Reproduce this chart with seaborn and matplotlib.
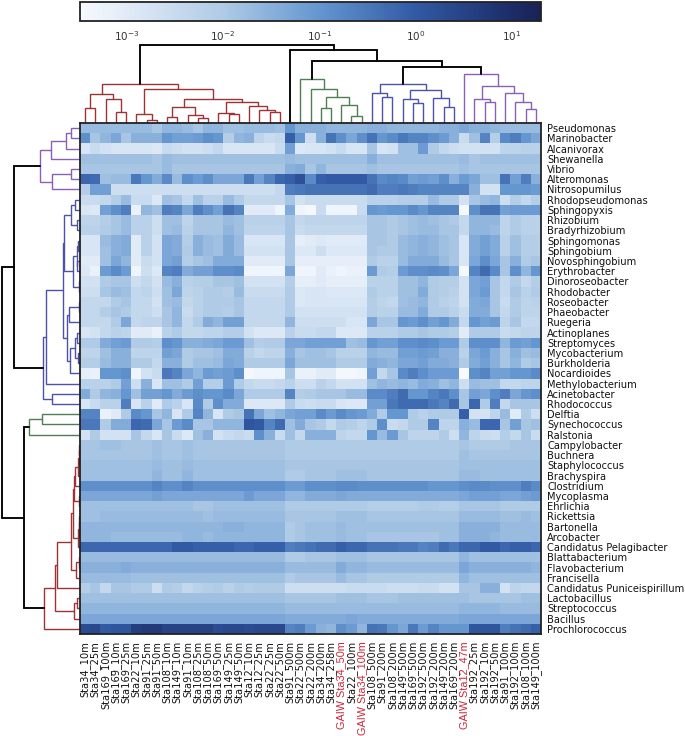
import numpy as np
import pandas as pd
import matplotlib
matplotlib.use("Agg")
import matplotlib.pyplot as plt
from matplotlib.colors import LinearSegmentedColormap, LogNorm
import seaborn as sns

taxa = ["Pseudomonas", "Marinobacter", "Alcanivorax", "Shewanella", "Vibrio", "Alteromonas", "Nitrosopumilus",
        "Rhodopseudomonas", "Sphingopyxis", "Rhizobium", "Bradyrhizobium", "Sphingomonas", "Sphingobium",
        "Novosphingobium", "Erythrobacter", "Dinoroseobacter", "Rhodobacter", "Roseobacter", "Phaeobacter",
        "Ruegeria", "Actinoplanes", "Streptomyces", "Mycobacterium", "Burkholderia", "Nocardioides",
        "Methylobacterium", "Acinetobacter", "Rhodococcus", "Delftia", "Synechococcus", "Ralstonia",
        "Campylobacter", "Buchnera", "Staphylococcus", "Brachyspira", "Clostridium", "Mycoplasma", "Ehrlichia",
        "Rickettsia", "Bartonella", "Arcobacter", "Candidatus Pelagibacter", "Blattabacterium", "Flavobacterium",
        "Francisella", "Candidatus Puniceispirillum", "Lactobacillus", "Streptococcus", "Bacillus",
        "Prochlorococcus"]
samples = ["Sta34_10m", "Sta34_25m", "Sta169_100m", "Sta169_10m", "Sta169_25m", "Sta22_10m", "Sta91_25m", "Sta91_50m",
           "Sta108_10m", "Sta149_10m", "Sta91_10m", "Sta108_25m", "Sta108_50m", "Sta169_50m", "Sta149_25m",
           "Sta149_50m", "Sta12_10m", "Sta12_25m", "Sta22_25m", "Sta22_50m", "Sta91_500m", "Sta22_500m", "Sta22_200m",
           "Sta34_200m", "Sta34_258m", "GAIW Sta34_50m", "Sta22_100m", "GAIW Sta34_100m", "Sta108_500m", "Sta91_200m",
           "Sta108_200m", "Sta149_500m", "Sta169_500m", "Sta192_500m", "Sta192_200m", "Sta149_200m", "Sta169_200m",
           "GAIW Sta12_47m", "Sta192_25m", "Sta192_10m", "Sta192_50m", "Sta91_100m", "Sta192_100m", "Sta108_100m",
           "Sta149_100m"]

# Abundance per row, as log10(percent) x 10
r00 = [-17,-17,-17,-17,-17,-17,-17,-19,-16,-16, -17,-19,-16,-16,-18,-18,-17,-17,-17,-18, -10,-15,-15,-15,-16,-16,-16,-16,-15,-15, -16,-16,-16,-16,-16,-15,-15,-13,-15,-15, -16,-17,-17,-17,-17]
r01 = [-9,-19,-16,-13,-19,-15,-15,-15,-10,-12, -12,-11,-9,-10,-21,-16,-15,-23,-25,-24, -1,-10,-26,-15,-4,-9,-13,-9,-4,-10, -8,-5,-7,-7,-9,-11,-15,-25,-18,-7, -21,-8,-6,-10,-13]
r02 = [-28,-25,-27,-28,-28,-28,-28,-29,-25,-26, -27,-27,-26,-24,-28,-28,-28,-28,-28,-25, -12,-29,-28,-28,-27,-25,-28,-28,-19,-28, -27,-18,-18,-11,-20,-24,-26,-27,-27,-27, -27,-23,-23,-22,-22]
r03 = [-18,-18,-18,-18,-18,-18,-18,-19,-17,-18, -18,-18,-18,-18,-18,-18,-18,-18,-18,-18, -17,-18,-18,-18,-18,-18,-18,-18,-15,-18, -18,-18,-18,-18,-18,-18,-18,-17,-19,-18, -18,-18,-18,-18,-18]
r04 = [-19,-19,-19,-19,-19,-19,-19,-19,-17,-19, -19,-19,-19,-19,-19,-19,-19,-19,-19,-19, -15,-14,-19,-16,-19,-19,-19,-19,-18,-19, -19,-19,-19,-19,-19,-19,-19,-18,-19,-19, -19,-19,-19,-19,-19]
r05 = [-2,-3,-18,-17,-17,-5,-10,-14,-8,-17, -9,-11,-9,-13,-13,-13,-5,-12,-7,-2, -1,2,-8,-1,0,0,0,0,-4,-8, -7,-8,-12,-11,-12,-9,-15,-11,-13,-18, -18,-4,-12,-6,-15]
r06 = [-21,-12,-12,-26,-26,-26,-26,-26,-26,-26, -26,-26,-26,-26,-26,-26,-26,-26,-26,-24, -6,-5,-4,-4,-4,-4,-4,-4,-3,-6, -6,-5,-6,-7,-7,-7,-7,-7,-15,-27, -27,-10,-10,-10,-11]
r07 = [-25,-25,-24,-21,-17,-25,-25,-29,-18,-19, -24,-18,-22,-22,-17,-20,-24,-24,-24,-24, -19,-27,-25,-25,-25,-25,-25,-25,-22,-22, -22,-21,-21,-21,-17,-20,-20,-27,-19,-17, -16,-26,-21,-24,-21]
r08 = [-28,-29,-12,-9,-6,-32,-16,-18,-6,-7, -13,-6,-9,-12,-4,-7,-30,-30,-30,-33, -14,-33,-34,-25,-33,-33,-33,-25,-10,-11, -10,-10,-8,-10,-7,-7,-7,-34,-9,-4, -4,-12,-11,-11,-11]
r09 = [-23,-23,-21,-19,-17,-22,-22,-26,-18,-18, -23,-19,-19,-19,-17,-18,-22,-22,-22,-22, -19,-24,-23,-23,-23,-23,-23,-23,-19,-19, -20,-19,-18,-17,-18,-19,-20,-24,-16,-16, -16,-23,-20,-22,-22]
r10 = [-22,-22,-20,-19,-17,-22,-22,-26,-18,-17, -22,-19,-19,-19,-16,-18,-23,-23,-23,-23, -19,-25,-24,-24,-24,-24,-24,-24,-19,-19, -20,-19,-18,-17,-17,-19,-19,-24,-16,-16, -17,-23,-20,-22,-22]
r11 = [-28,-28,-17,-15,-14,-30,-22,-27,-13,-14, -21,-15,-17,-18,-14,-17,-28,-28,-28,-28, -19,-31,-30,-29,-30,-30,-30,-30,-19,-19, -20,-17,-16,-15,-16,-18,-19,-28,-14,-12, -14,-22,-18,-21,-21]
r12 = [-28,-28,-18,-15,-14,-30,-22,-27,-13,-14, -20,-15,-17,-18,-14,-17,-27,-27,-27,-27, -19,-29,-29,-26,-29,-29,-29,-29,-19,-20, -20,-17,-16,-15,-16,-18,-19,-28,-14,-12, -14,-22,-18,-21,-21]
r13 = [-30,-30,-18,-13,-16,-30,-25,-27,-13,-12, -21,-19,-18,-14,-14,-14,-30,-30,-30,-30, -19,-31,-31,-31,-31,-31,-31,-31,-20,-22, -22,-17,-14,-14,-14,-17,-19,-28,-13,-9, -13,-19,-15,-20,-19]
r14 = [-29,-32,-11,-8,-11,-33,-26,-29,-7,-6, -14,-12,-12,-9,-9,-8,-33,-33,-33,-33, -13,-33,-33,-30,-32,-33,-32,-32,-11,-20, -21,-11,-9,-9,-8,-9,-13,-34,-7,-3, -8,-19,-9,-16,-10]
r15 = [-27,-27,-20,-19,-19,-26,-24,-27,-17,-15, -22,-21,-21,-19,-19,-18,-27,-27,-27,-27, -21,-31,-31,-30,-31,-31,-31,-31,-22,-22, -22,-18,-18,-16,-20,-21,-21,-27,-13,-12, -19,-24,-20,-24,-21]
r16 = [-26,-26,-19,-17,-18,-24,-23,-26,-18,-13, -23,-22,-20,-20,-21,-17,-25,-25,-25,-25, -20,-29,-28,-28,-29,-29,-29,-29,-20,-22, -22,-18,-18,-14,-20,-21,-22,-27,-13,-11, -19,-24,-19,-22,-20]
r17 = [-24,-24,-24,-20,-19,-24,-24,-27,-18,-17, -24,-22,-20,-20,-20,-19,-24,-24,-24,-24, -20,-29,-28,-28,-28,-28,-28,-28,-21,-23, -24,-18,-17,-16,-20,-22,-23,-27,-14,-13, -19,-25,-20,-23,-22]
r18 = [-24,-24,-21,-19,-20,-24,-24,-26,-19,-16, -25,-22,-20,-20,-21,-19,-24,-24,-24,-24, -20,-27,-27,-27,-27,-27,-27,-27,-21,-22, -22,-17,-17,-14,-20,-20,-22,-25,-14,-14, -19,-24,-20,-23,-23]
r19 = [-24,-24,-24,-20,-13,-24,-23,-23,-19,-16, -24,-20,-14,-16,-12,-12,-24,-24,-24,-24, -16,-26,-26,-26,-26,-26,-28,-28,-13,-19, -19,-10,-11,-9,-12,-10,-14,-24,-10,-12, -11,-23,-19,-24,-24]
r20 = [-28,-27,-24,-22,-23,-30,-30,-32,-22,-20, -24,-24,-23,-23,-21,-21,-27,-29,-29,-29, -22,-25,-25,-24,-24,-29,-29,-29,-22,-22, -22,-20,-20,-19,-20,-20,-21,-30,-20,-20, -20,-25,-24,-23,-23]
r21 = [-20,-20,-14,-12,-11,-20,-20,-21,-9,-10, -15,-15,-14,-13,-11,-11,-18,-21,-20,-20, -13,-13,-12,-12,-12,-12,-18,-17,-10,-12, -12,-9,-9,-8,-9,-11,-11,-20,-9,-9, -9,-16,-11,-12,-10]
r22 = [-23,-23,-18,-15,-15,-23,-23,-23,-12,-13, -20,-19,-19,-18,-14,-14,-22,-24,-23,-23, -15,-19,-18,-18,-19,-22,-22,-22,-16,-17, -17,-12,-12,-11,-12,-15,-15,-22,-13,-11, -15,-19,-15,-18,-17]
r23 = [-21,-21,-17,-15,-15,-20,-20,-24,-15,-15, -20,-18,-18,-17,-13,-14,-20,-20,-20,-20, -13,-18,-18,-18,-18,-20,-20,-20,-14,-15, -16,-13,-13,-12,-14,-14,-15,-20,-14,-12, -15,-19,-16,-20,-19]
r24 = [-31,-32,-10,-10,-9,-33,-27,-25,-5,-7, -13,-16,-11,-12,-11,-9,-34,-33,-33,-33, -19,-32,-32,-30,-30,-34,-34,-33,-12,-24, -19,-8,-6,-9,-11,-11,-11,-35,-9,-7, -12,-12,-10,-10,-8]
r25 = [-22,-22,-22,-20,-12,-26,-15,-28,-18,-18, -20,-12,-21,-21,-11,-20,-24,-25,-25,-24, -22,-26,-26,-22,-24,-27,-27,-27,-18,-16, -17,-16,-17,-14,-15,-18,-16,-26,-17,-18, -18,-24,-24,-23,-23]
r26 = [-14,-20,-16,-15,-10,-18,-12,-12,-10,-14, -11,-9,-10,-10,-8,-13,-20,-20,-20,-20, -7,-21,-20,-19,-19,-19,-17,-17,-8,-8, -6,-3,-10,-10,-7,-5,-9,-19,-12,-13, -9,-6,-13,-10,-9]
r27 = [-28,-25,-22,-22,-6,-28,-22,-30,-20,-22, -28,-8,-20,-9,-14,-14,-29,-29,-29,-29, -20,-25,-26,-25,-25,-28,-29,-29,-12,-12, -5,-3,-3,-3,-5,-7,-3,-19,-2,-20, -6,-24,-19,-19,-19]
r28 = [-7,-7,-32,-30,-20,-8,-10,-19,-16,-28, -20,-7,-16,-28,-20,-19,-4,-13,-18,-16, -13,-12,-12,-8,-11,-8,-10,-11,-14,-20, -10,-10,-20,-22,-20,-20,-20,-1,-27,-27, -23,-17,-30,-20,-26]
r29 = [-5,-5,-20,-14,-14,-2,-3,-13,-19,-11, -8,-19,-19,-16,-16,-16,1,0,-7,-3, -18,-14,-19,-20,-24,-20,-21,-23,-20,-9, -25,-24,-20,-20,-7,-23,-23,-15,-17,-2, -2,-19,-12,-19,-18]
r30 = [-27,-20,-27,-27,-27,-19,-24,-28,-19,-25, -29,-18,-15,-27,-25,-24,-25,-9,-15,-25, -18,-24,-15,-15,-15,-23,-24,-24,-10,-17, -11,-19,-23,-23,-23,-20,-26,-16,-23,-25, -26,-21,-24,-19,-25]
r31 = [-19,-19,-18,-18,-19,-19,-19,-18,-19,-19, -18,-19,-19,-19,-19,-19,-19,-19,-19,-19, -20,-20,-20,-20,-20,-20,-20,-20,-20,-20, -20,-20,-20,-20,-20,-20,-20,-19,-20,-20, -20,-20,-19,-19,-19]
r32 = [-19,-19,-19,-19,-19,-19,-19,-18,-19,-19, -18,-19,-19,-19,-19,-19,-19,-19,-19,-19, -20,-20,-20,-20,-20,-20,-20,-20,-20,-20, -20,-20,-20,-20,-20,-20,-20,-18,-19,-19, -19,-19,-19,-19,-19]
r33 = [-18,-18,-18,-18,-18,-18,-18,-17,-18,-18, -17,-18,-18,-18,-18,-18,-18,-18,-18,-18, -19,-19,-19,-19,-19,-19,-19,-19,-19,-19, -19,-19,-19,-19,-19,-19,-19,-18,-18,-18, -18,-18,-18,-18,-18]
r34 = [-18,-18,-18,-18,-18,-18,-18,-16,-18,-18, -16,-18,-18,-18,-18,-18,-18,-18,-18,-18, -20,-20,-19,-19,-19,-18,-18,-18,-19,-19, -19,-19,-19,-19,-19,-19,-19,-17,-17,-18, -18,-18,-18,-18,-18]
r35 = [-9,-9,-9,-9,-9,-9,-9,-7,-9,-9, -7,-9,-9,-9,-9,-9,-9,-9,-9,-9, -11,-11,-9,-9,-9,-8,-8,-9,-9,-9, -9,-9,-9,-9,-10,-10,-10,-9,-8,-8, -9,-9,-9,-6,-8]
r36 = [-13,-13,-13,-13,-13,-13,-13,-12,-13,-13, -13,-13,-13,-13,-13,-13,-11,-13,-13,-13, -16,-16,-14,-14,-14,-13,-14,-14,-14,-14, -14,-14,-14,-14,-14,-14,-14,-13,-12,-12, -12,-13,-13,-12,-11]
r37 = [-18,-18,-18,-18,-18,-18,-18,-18,-18,-18, -18,-19,-19,-18,-18,-18,-18,-18,-18,-18, -20,-20,-20,-20,-20,-20,-20,-20,-21,-21, -21,-21,-21,-20,-20,-21,-21,-19,-19,-19, -19,-20,-20,-20,-20]
r38 = [-18,-18,-17,-17,-17,-17,-17,-17,-17,-17, -17,-17,-18,-17,-17,-17,-17,-17,-17,-17, -19,-19,-19,-19,-19,-18,-18,-18,-19,-19, -19,-19,-19,-19,-19,-19,-19,-17,-17,-17, -17,-18,-18,-17,-18]
r39 = [-16,-16,-16,-16,-16,-16,-16,-16,-16,-16, -16,-16,-16,-16,-15,-15,-16,-16,-16,-16, -20,-19,-18,-18,-18,-17,-18,-18,-18,-18, -18,-18,-18,-18,-18,-18,-18,-15,-15,-15, -15,-17,-17,-17,-17]
r40 = [-16,-16,-16,-17,-17,-17,-17,-17,-17,-17, -16,-16,-17,-16,-16,-16,-16,-16,-16,-16, -20,-19,-18,-18,-18,-17,-18,-18,-19,-19, -19,-19,-19,-19,-19,-18,-18,-15,-15,-15, -16,-17,-17,-17,-17]
r41 = [-2,-2,-2,-2,-2,-2,-2,-2,-2,0, 0,-1,-1,-1,-1,-2,-2,-1,-1,-1, -6,-5,-4,-3,-3,-1,-2,-2,-4,-4, -4,-5,-5,-7,-6,-3,-5,-2,-2,0, 0,-2,-1,-1,-2]
r42 = [-17,-17,-17,-17,-17,-17,-17,-17,-17,-17, -17,-17,-17,-17,-17,-17,-17,-17,-17,-17, -20,-20,-19,-19,-19,-18,-18,-18,-19,-19, -19,-19,-19,-19,-19,-19,-19,-16,-18,-18, -18,-18,-18,-18,-18]
r43 = [-15,-15,-15,-15,-14,-15,-15,-15,-15,-15, -15,-15,-15,-15,-15,-15,-15,-15,-15,-15, -17,-17,-17,-17,-17,-14,-16,-16,-17,-17, -17,-17,-17,-17,-17,-17,-17,-13,-15,-15, -15,-15,-15,-15,-16]
r44 = [-17,-17,-17,-17,-17,-18,-18,-18,-18,-18, -18,-18,-18,-18,-18,-18,-18,-18,-18,-18, -20,-19,-19,-19,-19,-17,-19,-19,-20,-20, -20,-20,-20,-20,-20,-20,-20,-16,-18,-18, -18,-18,-18,-18,-18]
r45 = [-21,-19,-24,-19,-19,-20,-20,-26,-20,-21, -24,-22,-21,-20,-22,-20,-21,-20,-20,-20, -26,-26,-26,-26,-26,-26,-25,-25,-25,-25, -26,-26,-26,-25,-25,-27,-27,-19,-19,-15, -15,-27,-23,-24,-24]
r46 = [-18,-18,-18,-18,-18,-18,-18,-18,-18,-18, -18,-18,-18,-18,-18,-18,-18,-18,-18,-18, -19,-19,-19,-19,-19,-18,-18,-18,-19,-19, -19,-18,-18,-18,-18,-18,-18,-18,-19,-19, -19,-19,-19,-18,-18]
r47 = [-16,-16,-16,-16,-16,-16,-16,-16,-16,-16, -16,-16,-16,-16,-16,-16,-16,-16,-16,-16, -17,-17,-17,-17,-17,-17,-17,-17,-17,-17, -17,-17,-17,-17,-17,-17,-17,-16,-16,-16, -16,-17,-17,-17,-17]
r48 = [-13,-13,-13,-13,-13,-13,-13,-13,-13,-13, -13,-13,-13,-13,-13,-13,-13,-13,-13,-13, -14,-14,-14,-14,-14,-14,-13,-14,-14,-14, -14,-14,-14,-14,-14,-14,-14,-13,-13,-13, -13,-13,-13,-13,-13]
r49 = [3,4,0,1,1,6,7,7,5,5, 5,5,5,3,4,4,3,4,4,4, -7,-6,-11,-15,-16,-9,-11,-16,-4,-5, -10,-13,-5,-11,-7,-10,-10,-10,1,1, 1,-6,-4,-3,-1]

all_rows = [r00, r01, r02, r03, r04, r05, r06, r07, r08, r09, r10, r11, r12, r13, r14, r15, r16, r17, r18, r19,
            r20, r21, r22, r23, r24, r25, r26, r27, r28, r29, r30, r31, r32, r33, r34, r35, r36, r37, r38, r39,
            r40, r41, r42, r43, r44, r45, r46, r47, r48, r49]
for i, r in enumerate(all_rows):
    assert len(r) == 45, (i, len(r))

# Dendrograms: (merge height, left, right); integers are leaf indices
col_red = (39, (29, (14.7, 0, 1), (24, 2, (11, 3, 4))),
           (33.7, (9, 5, (3, 6, 7)),
            (24, (16, (5.7, 8, 9), (8, 10, (5, 11, 12))),
             (21, (10, 13, (9.5, 14, 15)),
              (17, 16, (13, 17, (10.7, 18, 19)))))))
col_green = (44.3, 21, (34.3, 22, (26, (14.7, 23, 24), (18, 25, (7.3, 26, 27)))))
col_blue = (39, (30, 28, (26, 29, 30)), (33, (24, 31, (19.7, 32, 33)), (25, 34, (16, 35, 36))))
col_purple = (48.7, 37, (37, (24, 38, (20.7, 39, 40)), (30, 41, (20.7, 42, (14.3, 43, 44)))))
col_root = (78, col_red, (73.5, 20, (61.7, col_green, (55.7, col_blue, col_purple))))

row_purple = (40, (29, (14, (9, 0, 1), 2), 3), (27.7, (9, 4, 5), 6))
row_blue = (37, (34, (17, (16, (9.3, (4.7, 7, 8), (2.7, 9, 10)),
                           (7, (3.3, (2, 11, 12), (3, 13, 14)), (1.3, 15, 16))),
                      (13, (11.5, (1.5, 17, 18), 19), (10, (5, (3, 20, 21), (2, 22, 23)), 24))), 25),
            (28, 26, 27))
row_green = (50.7, (37.7, 28, 29), 30)
row_red = (35.7, (25, (22.7, (9.3, (7.5, (6, (5, (2.5, (1.5, (0.8, 31, 32), 33), 34), 35), (1, 36, 37)),
                                    (2.5, (1.2, (0.8, 38, 39), 40), 41)),
                              (4, (1.2, 42, 43), 44)), 45),
                  (6, (2.7, 46, 47), 48)), 49)
row_root = (78, (66, row_purple, row_blue), (55.7, row_green, row_red))

colorbar_ticks = [1e-3, 1e-2, 1e-1, 1e0, 1e1]
vmin, vmax = 3.3e-4, 20

RED, GREEN, BLUE, PURPLE = "#9e3336", "#4f7f52", "#4b52a8", "#8a5fb4"
cluster_colors = {id(col_red): RED, id(col_green): GREEN, id(col_blue): BLUE, id(col_purple): PURPLE,
                  id(row_red): RED, id(row_green): GREEN, id(row_blue): BLUE, id(row_purple): PURPLE}

W, H = 685, 736


def axes_px(fig, x0, y0, x1, y1):
    return fig.add_axes([x0 / W, 1 - y1 / H, (x1 - x0) / W, (y1 - y0) / H])


def draw_tree(ax, node, color, vertical):
    if isinstance(node, int):
        return node + 0.5, 0
    color = cluster_colors.get(id(node), color)
    h, left, right = node
    p0, h0 = draw_tree(ax, left, color, vertical)
    p1, h1 = draw_tree(ax, right, color, vertical)
    pos = [p0, p0, p1, p1]
    hts = [h0, h, h, h1]
    lw = 1.35 if color == "black" else 1.0
    if vertical:
        ax.plot(pos, hts, color=color, lw=lw, solid_joinstyle="miter", clip_on=False)
    else:
        ax.plot(hts, pos, color=color, lw=lw, solid_joinstyle="miter", clip_on=False)
    return (p0 + p1) / 2, h


sns.set_style("white")
cmap = LinearSegmentedColormap.from_list("abund", [
    (0.0, (247/255, 250/255, 254/255)), (0.10, (225/255, 235/255, 247/255)),
    (0.309, (175/255, 203/255, 230/255)), (0.518, (100/255, 150/255, 208/255)),
    (0.727, (50/255, 90/255, 165/255)), (0.935, (28/255, 45/255, 105/255)),
    (1.0, (25/255, 35/255, 85/255))])

table = pd.DataFrame(10.0 ** (np.array(all_rows) / 10.0), index=taxa, columns=samples)

fig = plt.figure(figsize=(W / 100, H / 100), dpi=100)
ax_heat = axes_px(fig, 80, 123, 541, 634)
ax_cbar = axes_px(fig, 80, 2, 541, 21)
ax_top = axes_px(fig, 80, 40, 541, 123)
ax_left = axes_px(fig, 0, 123, 80, 634)

sns.heatmap(table, ax=ax_heat, cmap=cmap, norm=LogNorm(vmin=vmin, vmax=vmax), cbar_ax=ax_cbar,
            cbar_kws={"orientation": "horizontal", "ticks": colorbar_ticks},
            xticklabels=True, yticklabels=True, linewidths=0)

for s in ax_heat.spines.values():
    s.set_visible(True)
    s.set_color("#222222")
    s.set_linewidth(1.3)
ax_heat.yaxis.tick_right()
ax_heat.tick_params(axis="y", length=0, pad=4.5, labelsize=7.1, labelrotation=0, labelcolor="#111111")
ax_heat.tick_params(axis="x", length=0, pad=5, labelsize=7.1, labelrotation=90, labelcolor="#111111")
for lab in ax_heat.get_xticklabels():
    lab.set_verticalalignment("top")
    if lab.get_text().startswith("GAIW"):
        lab.set_color("#c8283c")
        lab.set_family("Liberation Sans")
        lab.set_fontsize(7.8)

cb = ax_heat.collections[0].colorbar
cb.minorticks_off()
cb.outline.set_edgecolor("#222222")
cb.outline.set_linewidth(1.3)
ax_cbar.tick_params(axis="x", direction="in", length=4, width=0.6, color="#333333", pad=6,
                    labelsize=7.5, labelcolor="#333333")

draw_tree(ax_top, col_root, "black", True)
ax_top.set_xlim(0, 45)
ax_top.set_ylim(0, 83)
ax_top.axis("off")

draw_tree(ax_left, row_root, "black", False)
ax_left.set_xlim(80, 0)
ax_left.set_ylim(50, 0)
ax_left.axis("off")

ax_heat.set_zorder(5)
fig.savefig("out.png", dpi=100)
